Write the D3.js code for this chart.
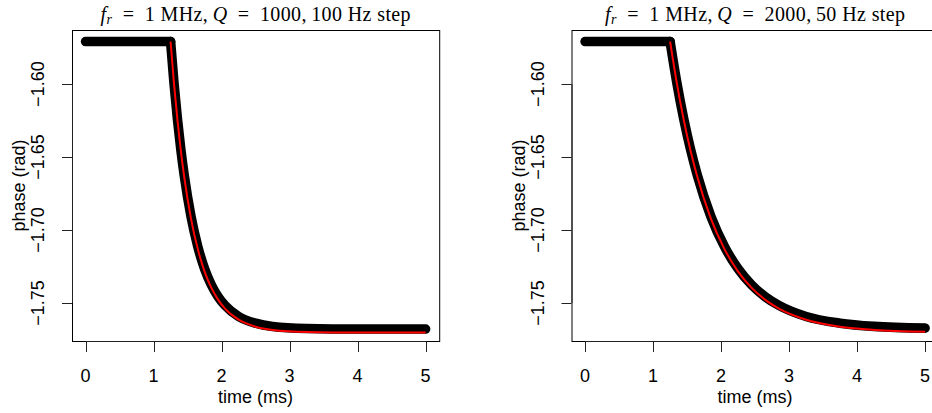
<!DOCTYPE html>
<html>
<head>
<meta charset="utf-8">
<script src="https://cdn.jsdelivr.net/npm/d3@7"></script>
<style>
  html, body { margin: 0; padding: 0; background: #fff; }
  svg { display: block; }
  .tick-label, .axis-title { font-family: "Liberation Sans", Arial, sans-serif; font-size: 18px; fill: #000; }
  .title { font-family: "Liberation Serif", "Times New Roman", serif; font-size: 20px; fill: #000; }
</style>
</head>
<body>
<svg id="chart" width="932" height="413"></svg>
<script>
// Phase response of a resonator after a frequency step: measured trace (black) and fit (red)
const xTicks = [0, 1, 2, 3, 4, 5];
const yTicks = [-1.60, -1.65, -1.70, -1.75];
const yTickLabels = ["\u22121.60", "\u22121.65", "\u22121.70", "\u22121.75"];

// Panel A: Q = 1000, 100 Hz step
const leftMeasTime = [0, 1.25, 1.30, 1.35, 1.40, 1.45, 1.55, 1.65, 1.75, 1.85, 1.95, 2.05, 2.25, 2.50, 2.75, 3.25, 4.00, 5.00];
const leftMeasPhase = [-1.5708, -1.5708, -1.5993, -1.6237, -1.6446, -1.6624, -1.6907, -1.7114, -1.7266, -1.7377, -1.7458, -1.7517, -1.7593, -1.7639, -1.7661, -1.7675, -1.7679, -1.7679];
const leftFitTime = [1.25, 1.30, 1.35, 1.40, 1.45, 1.55, 1.65, 1.75, 1.85, 1.95, 2.05, 2.25, 2.50, 2.75, 3.25, 4.00, 5.00];
const leftFitPhase = [-1.5708, -1.5997, -1.6244, -1.6455, -1.6635, -1.6922, -1.7131, -1.7285, -1.7397, -1.7479, -1.7539, -1.7615, -1.7663, -1.7685, -1.7699, -1.7703, -1.7703];

// Panel B: Q = 2000, 50 Hz step
const rightMeasTime = [0, 1.25, 1.35, 1.45, 1.55, 1.65, 1.85, 2.05, 2.25, 2.45, 2.65, 2.85, 3.25, 3.75, 4.25, 5.00];
const rightMeasPhase = [-1.5708, -1.5708, -1.5993, -1.6237, -1.6446, -1.6624, -1.6907, -1.7114, -1.7266, -1.7377, -1.7458, -1.7517, -1.7593, -1.7639, -1.7661, -1.7673];
const rightFitTime = [1.25, 1.35, 1.45, 1.55, 1.65, 1.85, 2.05, 2.25, 2.45, 2.65, 2.85, 3.25, 3.75, 4.25, 5.00];
const rightFitPhase = [-1.5708, -1.5997, -1.6244, -1.6455, -1.6635, -1.6922, -1.7131, -1.7285, -1.7397, -1.7479, -1.7539, -1.7615, -1.7663, -1.7685, -1.7697];

const panels = [
  { left: 72, q: "1000", step: "100", titleWidth: 310, meas: [leftMeasTime, leftMeasPhase], fit: [leftFitTime, leftFitPhase] },
  { left: 571.5, q: "2000", step: "50", titleWidth: 300, meas: [rightMeasTime, rightMeasPhase], fit: [rightFitTime, rightFitPhase] }
];

const svg = d3.select("#chart");
const plotTop = 30, plotBottom = 341, plotWidth = 367.2;

panels.forEach(p => {
  const x = d3.scaleLinear().domain([-0.2, 5.2]).range([p.left, p.left + plotWidth]);
  const y = d3.scaleLinear().domain([-1.7761, -1.5629]).range([plotBottom, plotTop]);
  const g = svg.append("g");

  // measured trace: flat segment before the step, then the decay
  const mt = p.meas[0], mp = p.meas[1];
  const pts = mt.map((t, i) => [t, mp[i]]);
  const flat = d3.line().x(d => x(d[0])).y(d => y(d[1]));
  const decay = d3.line().x(d => x(d[0])).y(d => y(d[1])).curve(d3.curveMonotoneX);
  const measStyle = sel => sel.attr("fill", "none").attr("stroke", "#000")
    .attr("stroke-width", 9.6).attr("stroke-linecap", "round").attr("stroke-linejoin", "round");
  g.append("path").attr("d", flat(pts.slice(0, 2))).call(measStyle);
  g.append("path").attr("d", decay(pts.slice(1))).call(measStyle);

  // fitted response
  const fpts = p.fit[0].map((t, i) => [t, p.fit[1][i]]);
  g.append("path").attr("d", decay(fpts)).attr("fill", "none")
    .attr("stroke", "#ff0000").attr("stroke-width", 2);

  // frame
  g.append("rect").attr("x", p.left + 0.5).attr("y", plotTop + 0.5)
    .attr("width", plotWidth).attr("height", plotBottom - plotTop)
    .attr("fill", "none").attr("stroke", "#000").attr("stroke-width", 1);

  // x axis
  const xa = g.append("g").attr("stroke", "#222").attr("stroke-width", 1);
  xa.append("line").attr("x1", x(0)).attr("x2", x(5)).attr("y1", plotBottom + 0.5).attr("y2", plotBottom + 0.5);
  xTicks.forEach(t => {
    xa.append("line").attr("x1", Math.round(x(t)) + 0.5).attr("x2", Math.round(x(t)) + 0.5)
      .attr("y1", plotBottom).attr("y2", plotBottom + 11);
    g.append("text").attr("class", "tick-label").attr("x", x(t)).attr("y", 382)
      .attr("text-anchor", "middle").text(t);
  });
  g.append("text").attr("class", "axis-title").attr("x", x(2.5)).attr("y", 403)
    .attr("text-anchor", "middle").text("time (ms)");

  // y axis
  const ya = g.append("g").attr("stroke", "#222").attr("stroke-width", 1);
  ya.append("line").attr("x1", p.left + 0.5).attr("x2", p.left + 0.5).attr("y1", y(-1.60)).attr("y2", y(-1.75));
  yTicks.forEach((v, i) => {
    const yy = Math.round(y(v)) + 0.5;
    ya.append("line").attr("x1", p.left - 10).attr("x2", p.left).attr("y1", yy).attr("y2", yy);
    g.append("text").attr("class", "tick-label")
      .attr("transform", `translate(${p.left - 28},${y(v)}) rotate(-90)`)
      .attr("text-anchor", "middle").text(yTickLabels[i]);
  });
  g.append("text").attr("class", "axis-title")
    .attr("transform", `translate(${p.left - 47},${(plotTop + plotBottom) / 2}) rotate(-90)`)
    .attr("text-anchor", "middle").text("phase (rad)");

  // title
  const title = g.append("text").attr("class", "title")
    .attr("x", p.left + plotWidth / 2).attr("y", 21).attr("text-anchor", "middle")
    .attr("textLength", p.titleWidth).attr("lengthAdjust", "spacing");
  title.append("tspan").attr("font-style", "italic").text("f");
  title.append("tspan").attr("font-style", "italic").attr("font-size", "14px").attr("dy", 3).text("r");
  title.append("tspan").attr("dy", -3).text("\u2002=\u20021 MHz,\u2009");
  title.append("tspan").attr("font-style", "italic").text("Q");
  title.append("tspan").text("\u2002=\u2002" + p.q + ",\u2009" + p.step + " Hz step");
});
</script>
</body>
</html>
